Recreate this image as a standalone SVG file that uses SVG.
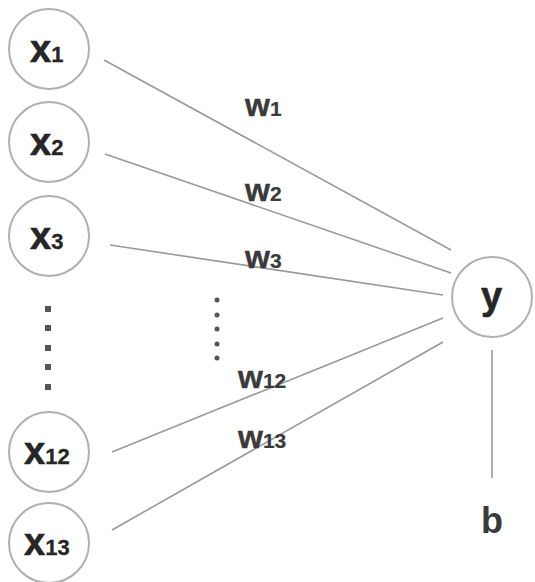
<svg xmlns="http://www.w3.org/2000/svg" width="535" height="582" viewBox="0 0 535 582">
<style>
.node{fill:#fff;stroke:#b0b0b0;stroke-width:2}
.lbl{font-family:"Liberation Sans",Arial,sans-serif;font-weight:bold;fill:#262626;stroke:#262626;stroke-width:0.6;font-size:38px}
.sub{font-size:22px;stroke-width:0.3}
.wl{font-family:"Liberation Sans",Arial,sans-serif;font-weight:bold;fill:#3a3a3a;stroke:#3a3a3a;stroke-width:0.4;font-size:32px}
.wsub{font-size:21px;stroke-width:0.2}
.bl{font-family:"Liberation Sans",Arial,sans-serif;font-weight:bold;fill:#3a3a3a;font-size:36px}
.edge{stroke:#999;stroke-width:1.6;fill:none}
.dot{fill:#555}
</style>
<rect width="535" height="582" fill="#fff"/>
<g id="connectors">
<line class="edge" x1="104" y1="60" x2="451" y2="250"/>
<line class="edge" x1="105" y1="154" x2="451" y2="273"/>
<line class="edge" x1="110" y1="245" x2="443" y2="295"/>
<line class="edge" x1="112" y1="452" x2="443" y2="318"/>
<line class="edge" x1="112" y1="530" x2="443" y2="342"/>
<line class="edge" x1="492" y1="350" x2="492" y2="478"/>
</g>
<g id="x1"><circle class="node" cx="49" cy="49" r="40"/><text class="lbl" x="30" y="62">x<tspan class="sub">1</tspan></text></g>
<g id="x2"><circle class="node" cx="49" cy="142" r="40"/><text class="lbl" x="30" y="155">x<tspan class="sub">2</tspan></text></g>
<g id="x3"><circle class="node" cx="49" cy="236" r="40"/><text class="lbl" x="30" y="249">x<tspan class="sub">3</tspan></text></g>
<g id="x12"><circle class="node" cx="49" cy="452" r="40"/><text class="lbl" x="24" y="464">x<tspan class="sub">12</tspan></text></g>
<g id="x13"><circle class="node" cx="49" cy="543" r="40"/><text class="lbl" x="24" y="555">x<tspan class="sub">13</tspan></text></g>
<g id="y"><circle class="node" cx="492" cy="297" r="40"/><text class="lbl" x="481" y="309">y</text></g>
<g id="b"><text class="bl" x="492" y="533" text-anchor="middle">b</text></g>
<g id="dots-left">
<rect class="dot" x="45" y="306" width="6" height="6"/><rect class="dot" x="45" y="325" width="6" height="6"/><rect class="dot" x="45" y="345" width="6" height="6"/><rect class="dot" x="45" y="364" width="6" height="6"/><rect class="dot" x="45" y="384" width="6" height="6"/>
</g>
<g id="dots-mid">
<circle class="dot" cx="217" cy="300" r="2.5"/><circle class="dot" cx="217" cy="315" r="2.5"/><circle class="dot" cx="217" cy="329" r="2.5"/><circle class="dot" cx="217" cy="344" r="2.5"/><circle class="dot" cx="217" cy="358" r="2.5"/>
</g>
<g id="weights">
<text class="wl" x="245" y="116">w<tspan class="wsub">1</tspan></text>
<text class="wl" x="245" y="201">w<tspan class="wsub">2</tspan></text>
<text class="wl" x="245" y="268">w<tspan class="wsub">3</tspan></text>
<text class="wl" x="238" y="388">w<tspan class="wsub">12</tspan></text>
<text class="wl" x="238" y="448">w<tspan class="wsub">13</tspan></text>
</g>
</svg>
